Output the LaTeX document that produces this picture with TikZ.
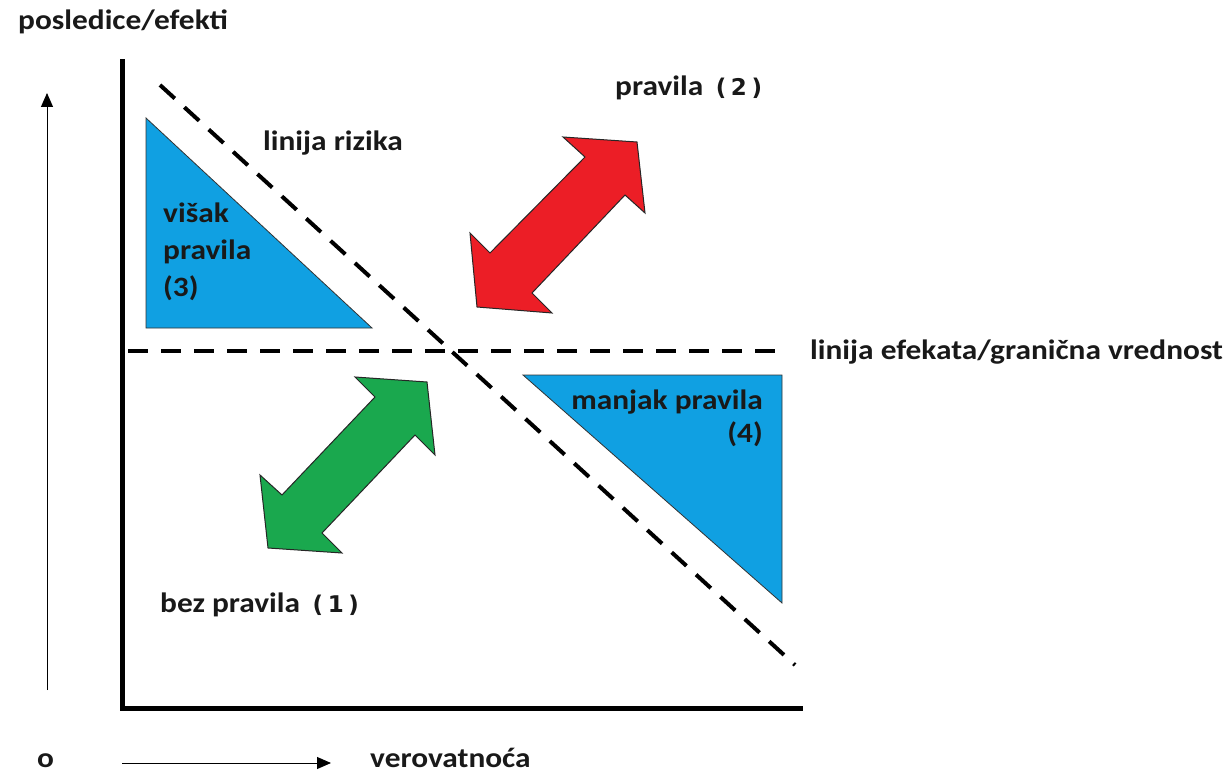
\documentclass[tikz,border=0pt]{standalone}
\usepackage{fontspec}
\setmainfont{Carlito}[FakeStretch=1.12]
\newfontfamily\dvfont{DejaVu Sans}
\usetikzlibrary{arrows.meta}
\definecolor{boxblue}{RGB}{16,160,226}
\definecolor{arrred}{RGB}{236,30,38}
\definecolor{arrgreen}{RGB}{26,168,78}
\newcommand{\widenum}[1]{\hspace{0.45em}{\dvfont\bfseries\fontsize{23}{28}\selectfont(\hspace{0.2em}#1\hspace{0.2em})}}
\tikzset{
  lbl/.style={font=\bfseries\fontsize{28}{37}\selectfont, inner sep=0pt, text=black!90},
  axisline/.style={line width=5pt, line cap=rect},
  riskline/.style={line width=4pt, dash pattern=on 20pt off 13pt},
  tri/.style={fill=boxblue, draw=black!80, line width=0.8pt},
  bigarrow/.style={draw=black!85, line width=1pt, line join=miter},
  thinarrow/.style={line width=1pt, -{Triangle[length=14pt,width=12pt]}}
}
\begin{document}
\begin{tikzpicture}[x=1pt,y=-1pt]
\useasboundingbox (0,0) rectangle (1230,775);
\fill[white] (0,0) rectangle (1230,775);
% axes
\coordinate (ytop) at (122,62);
\coordinate (orig) at (122,708);
\coordinate (xend) at (800,708);
\draw[axisline] (ytop) -- (orig) -- (xend);
% triangles
\draw[tri] (146,118) -- (146,328) -- (372,328) -- cycle;
\draw[tri] (523,375) -- (782,375) -- (782,603) -- cycle;
% dashed lines
\coordinate (rs) at (160,85);
\coordinate (re) at (795,665);
\draw[riskline] (rs) -- (re);
\coordinate (hs) at (128,351);
\coordinate (he) at (778,351);
\draw[riskline] (hs) -- (he);
% red arrow
\draw[bigarrow, fill=arrred] (637,142) -- (645,213) -- (625,195) -- (532,293) -- (552,313)
  -- (477,307) -- (470,233) -- (490,253) -- (585,157) -- (563,137) -- cycle;
% green arrow
\draw[bigarrow, fill=arrgreen] (427,382) -- (435,455) -- (415,435) -- (322,533) -- (342,553)
  -- (268,548) -- (260,475) -- (282,495) -- (375,397) -- (355,377) -- cycle;
% small axis arrows
\coordinate (ua) at (47,690);
\coordinate (ub) at (47,93);
\draw[thinarrow] (ua) -- (ub);
\coordinate (ra) at (122,763);
\coordinate (rb) at (331,763);
\draw[thinarrow] (ra) -- (rb);
% labels
\node[lbl, anchor=west] (ylab) at (18,22) {posledice/efekti};
\node[lbl, anchor=west] (zero) at (37,761) {o};
\node[lbl, anchor=west] (xlab) at (370,758) {verovatnoća};
\node[lbl, anchor=west] (rizik) at (263,143) {linija rizika};
\node[lbl, anchor=north west, align=left] (visak) at (163,203) {višak\\pravila\\(3)};
\node[lbl, anchor=west] (prav2) at (615,88) {pravila\widenum{2}};
\node[lbl, anchor=west] (efekti) at (810,352) {linija efekata/granična vrednost};
\node[lbl, anchor=east, align=right] (manjak) at (763,418) {manjak pravila\\[-4pt](4)};
\node[lbl, anchor=west] (bez) at (160,605) {bez pravila\widenum{1}};
\end{tikzpicture}
\end{document}
